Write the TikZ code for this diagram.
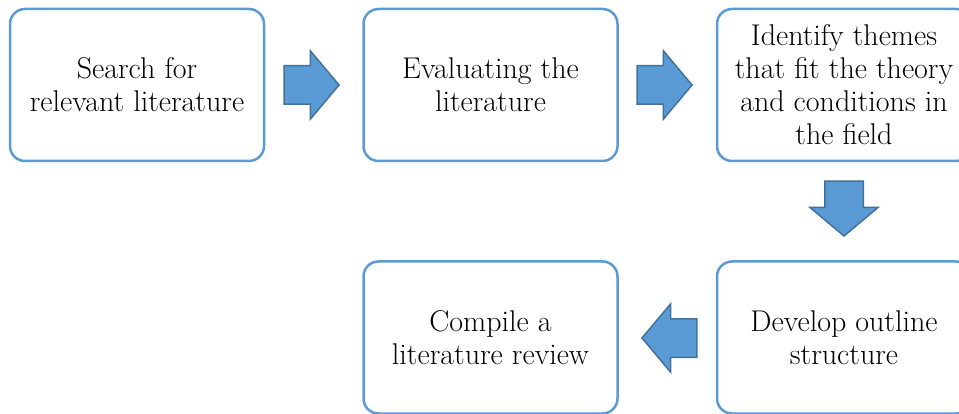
\documentclass[tikz,border=0pt]{standalone}
\usetikzlibrary{shapes,shapes.arrows}
\definecolor{boxblue}{HTML}{5B9BD5}
\definecolor{arrowline}{HTML}{41719C}
\begin{document}
\begin{tikzpicture}[x=1pt,y=-1pt,
  stepbox/.style={shape=rectangle,rounded corners=15pt,draw=boxblue,line width=2.5pt,align=center,minimum width=254pt,minimum height=152pt,inner sep=0pt,font=\fontsize{30}{33}\selectfont},
  blockarrow/.style={shape=single arrow,fill=boxblue,draw=arrowline,line width=1.5pt,inner xsep=0pt,inner ysep=18.5pt,single arrow head extend=15pt,single arrow tip angle=100,minimum height=55pt,anchor=tip}]
\useasboundingbox (0,0) rectangle (959,414);
\node[stepbox] (0) at (137,85) {Search for\\relevant literature};
\node[stepbox] (1) at (490.5,85) {Evaluating the\\literature};
\node[stepbox] (2) at (844,85) {Identify themes\\that fit the theory\\and conditions in\\the field};
\node[stepbox] (3) at (844,337.5) {Develop outline\\structure};
\node[stepbox] (4) at (490.5,337.5) {Compile a\\literature review};

\node[blockarrow] (5) at (340,85) {};
\node[blockarrow] (6) at (693,85) {};
\node[blockarrow,rotate=-90] (7) at (844,237) {};
\node[blockarrow,rotate=180] (8) at (641,338) {};
\end{tikzpicture}
\end{document}
